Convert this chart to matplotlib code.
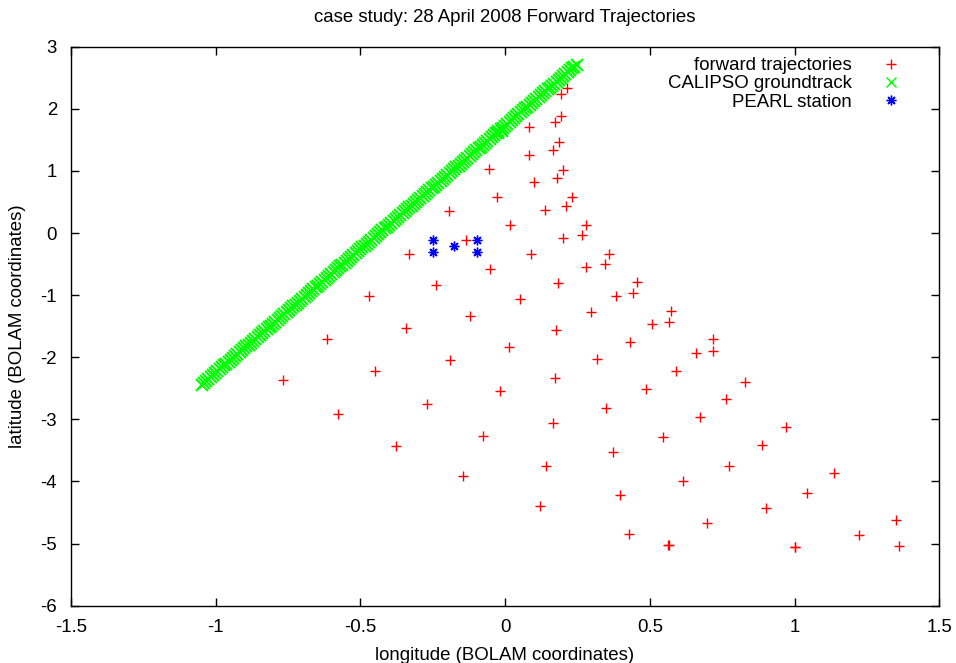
import matplotlib
matplotlib.use("Agg")
import matplotlib.pyplot as plt

plt.rcParams['font.family'] = ['Liberation Sans', 'DejaVu Sans']

# forward trajectory end points (BOLAM coordinates)
traj_lon = [0.212, 0.193, 0.193, 0.173, 0.083, 0.187, 0.167, 0.083, 0.199, 0.178,
            -0.055, 0.099, 0.230, 0.209, -0.029, 0.136, -0.193, 0.017, 0.281, 0.265,
            0.199, -0.135, -0.332, 0.090, -0.052, 0.279, -0.238, 0.182, -0.471, 0.051,
            -0.123, 0.296, -0.342, 0.174, -0.615, 0.014, -0.191, 0.316, -0.766, -0.451,
            0.173, -0.019, 0.359, 0.344, 0.455, 0.441, 0.384, 0.574, 0.567, 0.509,
            0.719, 0.431, 0.486, 0.349, -0.270, -0.578, 0.165, -0.077, 0.372, -0.376,
            0.142, -0.146, 0.397, 0.121, 0.427, 0.718, 0.658, 0.589, 0.828, 0.762,
            0.672, 0.970, 0.546, 0.887, 0.775, 1.136, 0.615, 1.043, 0.900, 1.352,
            0.698, 1.223, 0.562, 0.565, 1.000, 1.003, 1.362]
traj_lat = [2.330, 2.234, 1.889, 1.787, 1.702, 1.461, 1.337, 1.261, 1.019, 0.890,
            1.031, 0.816, 0.585, 0.435, 0.585, 0.375, 0.354, 0.129, 0.129, -0.027,
            -0.081, -0.108, -0.333, -0.333, -0.585, -0.543, -0.833, -0.800, -1.019, -1.063,
            -1.332, -1.272, -1.530, -1.557, -1.702, -1.836, -2.050, -2.034, -2.372, -2.227,
            -2.330, -2.549, -0.333, -0.494, -0.794, -0.961, -1.010, -1.251, -1.433, -1.470,
            -1.707, -1.750, -2.507, -2.818, -2.758, -2.915, -3.060, -3.264, -3.531, -3.425,
            -3.747, -3.908, -4.214, -4.391, -4.847, -1.905, -1.937, -2.217, -2.394, -2.678,
            -2.968, -3.124, -3.285, -3.419, -3.747, -3.860, -3.994, -4.187, -4.433, -4.622,
            -4.665, -4.868, -5.024, -5.030, -5.052, -5.050, -5.040]

# CALIPSO groundtrack
track_lon = [-1.048, -1.040, -1.033, -1.025, -1.017, -1.009, -1.002, -0.994, -0.986, -0.979,
             -0.971, -0.963, -0.955, -0.948, -0.940, -0.932, -0.925, -0.917, -0.909, -0.902,
             -0.894, -0.886, -0.878, -0.871, -0.863, -0.855, -0.848, -0.840, -0.832, -0.824,
             -0.817, -0.809, -0.801, -0.794, -0.786, -0.778, -0.770, -0.763, -0.755, -0.747,
             -0.740, -0.732, -0.724, -0.717, -0.709, -0.701, -0.693, -0.686, -0.678, -0.670,
             -0.663, -0.655, -0.647, -0.639, -0.632, -0.624, -0.616, -0.609, -0.601, -0.593,
             -0.585, -0.578, -0.570, -0.562, -0.555, -0.547, -0.539, -0.531, -0.524, -0.516,
             -0.508, -0.501, -0.493, -0.485, -0.478, -0.470, -0.462, -0.454, -0.447, -0.439,
             -0.431, -0.424, -0.416, -0.408, -0.400, -0.393, -0.385, -0.377, -0.370, -0.362,
             -0.354, -0.346, -0.339, -0.331, -0.323, -0.316, -0.308, -0.300, -0.293, -0.285,
             -0.277, -0.269, -0.262, -0.254, -0.246, -0.239, -0.231, -0.223, -0.215, -0.208,
             -0.200, -0.192, -0.185, -0.177, -0.169, -0.161, -0.154, -0.146, -0.138, -0.131,
             -0.123, -0.115, -0.108, -0.100, -0.092, -0.084, -0.077, -0.069, -0.061, -0.054,
             -0.046, -0.038, -0.030, -0.023, -0.015, -0.007, 0.000, 0.008, 0.016, 0.023,
             0.031, 0.039, 0.046, 0.054, 0.062, 0.070, 0.077, 0.085, 0.093, 0.100,
             0.108, 0.116, 0.124, 0.131, 0.139, 0.147, 0.154, 0.162, 0.170, 0.178,
             0.185, 0.193, 0.201, 0.208, 0.216, 0.224, 0.231, 0.239, 0.247,
             -0.025, -0.010]
track_lat = [-2.440, -2.409, -2.379, -2.348, -2.317, -2.287, -2.256, -2.225, -2.195, -2.164,
             -2.133, -2.103, -2.072, -2.041, -2.011, -1.980, -1.950, -1.919, -1.888, -1.858,
             -1.827, -1.796, -1.766, -1.735, -1.704, -1.674, -1.643, -1.612, -1.582, -1.551,
             -1.520, -1.490, -1.459, -1.428, -1.398, -1.367, -1.336, -1.306, -1.275, -1.244,
             -1.214, -1.183, -1.153, -1.122, -1.091, -1.061, -1.030, -0.999, -0.969, -0.938,
             -0.907, -0.877, -0.846, -0.815, -0.785, -0.754, -0.723, -0.693, -0.662, -0.631,
             -0.601, -0.570, -0.539, -0.509, -0.478, -0.447, -0.417, -0.386, -0.355, -0.325,
             -0.294, -0.263, -0.233, -0.202, -0.172, -0.141, -0.110, -0.080, -0.049, -0.018,
             0.012, 0.043, 0.074, 0.104, 0.135, 0.166, 0.196, 0.227, 0.258, 0.288,
             0.319, 0.350, 0.380, 0.411, 0.442, 0.472, 0.503, 0.534, 0.564, 0.595,
             0.626, 0.656, 0.687, 0.718, 0.748, 0.779, 0.809, 0.840, 0.871, 0.901,
             0.932, 0.963, 0.993, 1.024, 1.055, 1.085, 1.116, 1.147, 1.177, 1.208,
             1.239, 1.269, 1.300, 1.331, 1.361, 1.392, 1.423, 1.453, 1.484, 1.515,
             1.545, 1.576, 1.606, 1.637, 1.668, 1.698, 1.729, 1.760, 1.790, 1.821,
             1.852, 1.882, 1.913, 1.944, 1.974, 2.005, 2.036, 2.066, 2.097, 2.128,
             2.158, 2.189, 2.220, 2.250, 2.281, 2.312, 2.342, 2.373, 2.404, 2.434,
             2.465, 2.496, 2.526, 2.557, 2.587, 2.618, 2.649, 2.679, 2.710,
             1.610, 1.640]

# PEARL station
pearl_lon = [-0.250, -0.250, -0.175, -0.097, -0.097]
pearl_lat = [-0.108, -0.301, -0.205, -0.108, -0.301]

xticks = [-1.5, -1, -0.5, 0, 0.5, 1, 1.5]
xtick_labels = ["-1.5", "-1", "-0.5", "0", "0.5", "1", "1.5"]
yticks = [3, 2, 1, 0, -1, -2, -3, -4, -5, -6]
ytick_labels = ["3", "2", "1", "0", "-1", "-2", "-3", "-4", "-5", "-6"]

W, H = 956, 663
fs = 13.4

fig = plt.figure(figsize=(W / 100, H / 100), dpi=100)
ax = fig.add_axes([71 / W, 1 - 605.6 / H, (939.3 - 71) / W, (605.6 - 46.7) / H])

ax.plot(traj_lon, traj_lat, linestyle="none", marker="+", color="#ff0000",
        markersize=6.5, markeredgewidth=1.0, label="forward trajectories")
ax.plot(track_lon, track_lat, linestyle="none", marker="x", color="#00ff00",
        markersize=8.0, markeredgewidth=1.5, label="CALIPSO groundtrack")
ax.plot(pearl_lon, pearl_lat, linestyle="none", marker=(8, 2, 0), color="#0000ff",
        markersize=7.0, markeredgewidth=1.0, label="PEARL station")

ax.set_xlim(-1.5, 1.5)
ax.set_ylim(-6, 3)
ax.set_xticks(xticks)
ax.set_xticklabels(xtick_labels)
ax.set_yticks(yticks)
ax.set_yticklabels(ytick_labels)
ax.tick_params(direction="in", top=True, right=True, length=6, width=1,
               labelsize=fs, color="black")
ax.tick_params(axis="x", pad=10)
ax.tick_params(axis="y", pad=10)
for s in ax.spines.values():
    s.set_linewidth(1.0)

fig.text(505 / W, 1 - 17 / H, "case study: 28 April 2008 Forward Trajectories",
         ha="center", va="center", fontsize=fs)
fig.text(505 / W, 1 - 655 / H, "longitude (BOLAM coordinates)",
         ha="center", va="center", fontsize=fs)
fig.text(18 / W, 1 - 326 / H, "latitude (BOLAM coordinates)",
         ha="center", va="center", rotation=90, fontsize=fs)

# legend: text first, marker to the right, no frame
leg = ax.legend(loc="upper right", bbox_to_anchor=(0.972, 0.991), frameon=False,
                markerfirst=False, numpoints=1, fontsize=fs, handlelength=2.0,
                handletextpad=1.1, labelspacing=0.06, borderpad=0.3, borderaxespad=0)
# thinner cross in the legend key
leg.legend_handles[1].set_markersize(7.0)
leg.legend_handles[1].set_markeredgewidth(1.0)

fig.savefig("out.png", dpi=100)
